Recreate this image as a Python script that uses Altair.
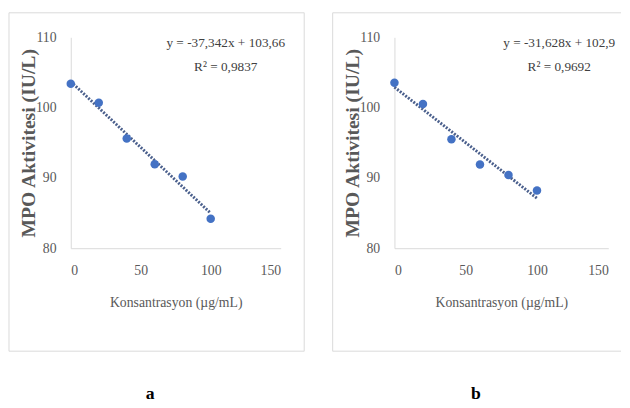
import altair as alt
import pandas as pd

# Data
conc = [0, 20, 40, 60, 80, 100]
mpo_a = [103.4, 100.7, 95.6, 91.95, 90.2, 84.2]
mpo_b = [103.55, 100.5, 95.5, 91.9, 90.4, 88.2]

x_ticks = [0, 50, 100, 150]
y_ticks = [80, 90, 100, 110]

eq_a = ["y = -37,342x + 103,66", "R² = 0,9837"]
eq_b = ["y = -31,628x + 102,9", "R² = 0,9692"]

FONT = "Liberation Serif"
GREY = "#595959"
BLUE = "#4472C4"
FRAME = "#d9d9d9"
H = 215


def frame_layers(left, right, top, bottom, right_edge):
    one = pd.DataFrame({"t": [""]})
    base = alt.Chart(one)
    layers = [
        base.mark_rule(color=FRAME, strokeWidth=1).encode(
            x=alt.value(left), x2=alt.value(right), y=alt.value(top)),
        base.mark_rule(color=FRAME, strokeWidth=1).encode(
            x=alt.value(left), x2=alt.value(right), y=alt.value(bottom)),
        base.mark_rule(color=FRAME, strokeWidth=1).encode(
            x=alt.value(left), y=alt.value(top), y2=alt.value(bottom)),
    ]
    if right_edge:
        layers.append(base.mark_rule(color=FRAME, strokeWidth=1).encode(
            x=alt.value(right), y=alt.value(top), y2=alt.value(bottom)))
    return layers


def panel(values, width, eq, eq_x, label, label_x, frame_right, right_edge):
    df = pd.DataFrame({"conc": conc, "mpo": values})
    xenc = alt.X(
        "conc:Q",
        scale=alt.Scale(domain=[0, 150], nice=False),
        axis=alt.Axis(values=x_ticks, title="Konsantrasyon (µg/mL)",
                      labelPadding=16, titleY=48),
    )
    yenc = alt.Y(
        "mpo:Q",
        scale=alt.Scale(domain=[80, 110], nice=False, zero=False),
        axis=alt.Axis(values=y_ticks, title="MPO Aktivitesi (IU/L)",
                      labelPadding=15, titleX=-33, titleY=H / 2),
    )
    trend = alt.Chart(df).transform_regression("conc", "mpo").mark_line(
        color="#4a5f8c", strokeWidth=3, strokeDash=[2, 1.5]
    ).encode(x="conc:Q", y="mpo:Q")
    pts = alt.Chart(df).mark_circle(size=75, color=BLUE, opacity=1).encode(
        x=xenc, y=yenc
    )
    eq1 = alt.Chart(pd.DataFrame({"t": [eq[0]]})).mark_text(
        font=FONT, fontSize=13.5, color="#404040", align="center", baseline="middle"
    ).encode(x=alt.value(eq_x), y=alt.value(6), text="t:N")
    eq2 = alt.Chart(pd.DataFrame({"t": [eq[1]]})).mark_text(
        font=FONT, fontSize=13.5, color="#404040", align="center", baseline="middle"
    ).encode(x=alt.value(eq_x), y=alt.value(30), text="t:N")
    lab = alt.Chart(pd.DataFrame({"t": [label]})).mark_text(
        font=FONT, fontSize=18, fontWeight="bold", color="#000000",
        align="center", baseline="middle"
    ).encode(x=alt.value(label_x), y=alt.value(364), text="t:N")
    layers = frame_layers(-63, frame_right, -25, 320, right_edge)
    layers += [trend, pts, eq1, eq2, lab]
    return alt.layer(*layers).properties(width=width, height=H)


pa = panel(mpo_a, 214, eq_a, 158, "a", 81, 238, True)
pb = panel(mpo_b, 218, eq_b, 168, "b", 83, 231, False)

chart = alt.hconcat(pa, pb, spacing=27).properties(
    padding=0, background="white"
).configure_view(strokeWidth=0).configure_axis(
    grid=False, ticks=False, tickSize=0, domainColor="#d9d9d9", domainWidth=1,
    labelFont=FONT, labelFontSize=14, labelColor=GREY,
    titleFont=FONT, titleColor=GREY,
).configure_axisX(
    titleFontSize=14, titleFontWeight="normal"
).configure_axisY(
    titleFontSize=20, titleFontWeight="bold"
)

chart.save("out.html", embed_options={"renderer": "svg", "actions": False})
